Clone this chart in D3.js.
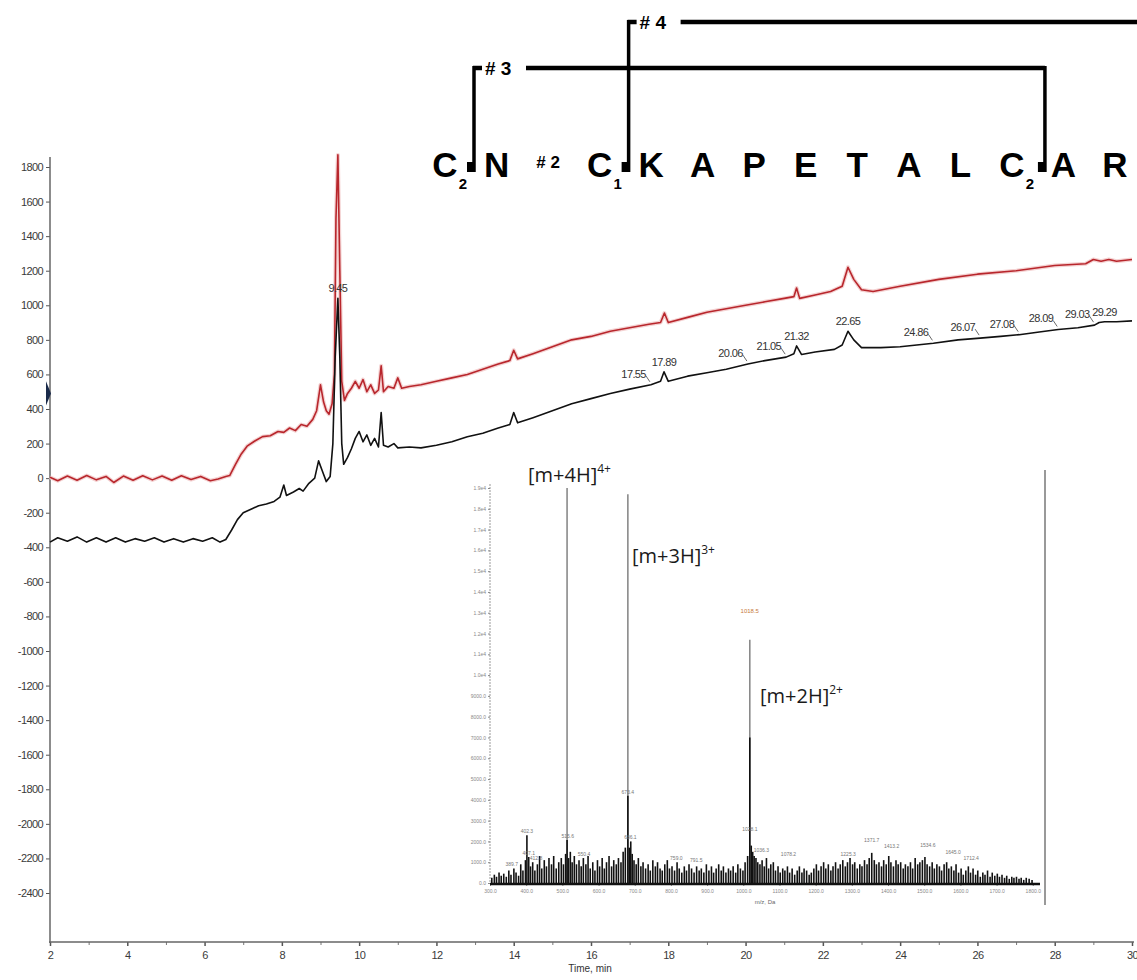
<!DOCTYPE html>
<html><head><meta charset="utf-8">
<script src="https://cdn.jsdelivr.net/npm/d3@7"></script>
<style>body{margin:0;background:#fff}svg{display:block}</style>
</head><body>
<svg id="c" width="1137" height="980"></svg>
<script>
// ---------- DATA ----------
const timeTicks = [2,4,6,8,10,12,14,16,18,20,22,24,26,28,30];
const timeMinor = [3,5,7,9,11,13,15,17,19,21,23,25,27,29];
const yTicks = [1800,1600,1400,1200,1000,800,600,400,200,0,-200,-400,-600,-800,-1000,-1200,-1400,-1600,-1800,-2000,-2200,-2400];

// red trace (time min, intensity)
const redTrace = [
[2.0,5],[2.2,-15],[2.45,12],[2.7,-12],[2.95,15],[3.2,-10],[3.45,10],[3.65,-25],[3.9,12],[4.15,-12],[4.4,14],[4.65,-10],[4.9,12],[5.15,-12],[5.4,14],[5.65,-8],[5.9,10],[6.15,-15],[6.35,-5],[6.55,10],[6.65,15],
[6.8,80],[6.95,140],[7.1,185],[7.3,215],[7.5,240],[7.7,245],[7.9,270],[8.05,265],[8.2,290],[8.35,275],[8.5,310],[8.65,300],[8.8,340],[8.9,390],[9.0,540],[9.08,440],[9.15,390],[9.22,370],[9.3,430],[9.36,600],[9.4,1500],[9.45,1870],[9.5,1200],[9.55,560],[9.62,450],[9.7,490],[9.8,520],[9.9,560],[10.0,520],[10.1,570],[10.2,500],[10.3,540],[10.4,490],[10.5,510],[10.57,650],[10.63,500],[10.75,530],[10.9,520],[11.0,580],[11.1,520],[11.3,530],[11.6,540],[12.0,560],[12.4,580],[12.8,600],[13.2,630],[13.6,660],[13.9,680],[14.0,740],[14.1,690],[14.5,720],[15.0,760],[15.5,800],[16.0,820],[16.5,850],[17.0,870],[17.5,890],[17.8,900],[17.9,955],[18.0,900],[18.5,930],[19.0,960],[19.5,980],[20.0,1000],[20.5,1020],[21.0,1040],[21.25,1050],[21.32,1100],[21.4,1040],[21.8,1060],[22.2,1080],[22.5,1110],[22.65,1220],[22.8,1150],[23.0,1090],[23.3,1080],[24.0,1110],[25.0,1150],[26.0,1180],[27.0,1200],[28.0,1230],[28.8,1240],[29.0,1265],[29.2,1255],[29.4,1265],[29.6,1255],[30.0,1265]
];

// black trace (time min, intensity)
const blackTrace = [
[2.0,-370],[2.2,-345],[2.45,-365],[2.7,-340],[2.95,-370],[3.2,-345],[3.45,-370],[3.7,-345],[3.95,-370],[4.2,-350],[4.45,-365],[4.7,-345],[4.95,-370],[5.2,-350],[5.45,-370],[5.7,-350],[5.95,-365],[6.2,-345],[6.4,-370],[6.55,-355],
[6.7,-300],[6.85,-240],[7.0,-200],[7.2,-180],[7.4,-160],[7.6,-150],[7.8,-135],[7.95,-110],[8.05,-40],[8.12,-100],[8.3,-80],[8.45,-60],[8.55,-75],[8.7,-30],[8.85,0],[8.95,100],[9.05,40],[9.15,-20],[9.25,10],[9.32,200],[9.38,700],[9.45,1040],[9.5,700],[9.55,200],[9.6,80],[9.7,120],[9.8,170],[9.9,230],[10.0,270],[10.1,210],[10.2,250],[10.3,190],[10.4,230],[10.5,180],[10.57,380],[10.63,190],[10.75,180],[10.9,200],[11.0,175],[11.3,180],[11.6,175],[12.0,190],[12.4,210],[12.8,240],[13.2,260],[13.6,290],[13.9,310],[14.0,380],[14.1,320],[14.5,350],[15.0,390],[15.5,430],[16.0,460],[16.5,490],[17.0,515],[17.55,540],[17.8,560],[17.89,615],[18.0,560],[18.5,590],[19.0,610],[19.5,630],[20.06,660],[20.5,680],[21.05,700],[21.25,720],[21.32,765],[21.45,715],[21.8,730],[22.3,745],[22.5,770],[22.65,850],[22.8,800],[23.0,755],[23.5,755],[24.0,760],[24.86,780],[25.5,800],[26.07,810],[26.6,820],[27.08,830],[27.6,845],[28.09,860],[28.6,870],[29.03,885],[29.15,900],[29.29,905],[29.6,905],[30.0,910]
];

// peak labels on black trace
const centeredPeaks = [9.45, 17.89, 21.32, 22.65, 29.29];
const leaderPeaks = [17.55, 20.06, 21.05, 24.86, 26.07, 27.08, 28.09, 29.03];

// peptide sequence
const residues = ['C','N','#','C','K','A','P','E','T','A','L','C','A','R'];
const residueSubs = ['2','','','1','','','','','','','','2','',''];
const bridges = [
  {label:'# 3', from:0, to:11, level:'low'},
  {label:'# 4', from:3, to:null, level:'high'}
];

// inset mass spectrum
const mzTicks = [300,400,500,600,700,800,900,1000,1100,1200,1300,1400,1500,1600,1700,1800];
const intTicks = [0,1000,2000,3000,4000,5000,6000,7000,8000,9000,10000,11000,12000,13000,14000,15000,16000,17000,18000,19000];
const ionPeaks = [[513,19000],[681,18700],[1018,11700]];
const ionLabels = [{text:'[m+4H]', sup:'4+', mz:513},{text:'[m+3H]', sup:'3+', mz:681},{text:'[m+2H]', sup:'2+', mz:1018}];
const noise = [
[305,250],[312,400],[318,300],[325,500],[331,350],[338,450],[345,300],[352,600],[358,400],[366,700],[372,500],[379,350],[385,900],[391,600],[398,1100],[402,2300],[407,1250],[412,800],[418,1000],[424,600],[431,900],[437,1300],[443,700],[450,1100],[456,800],[463,1200],[470,900],[476,1300],[483,700],[490,1000],[497,1200],[503,900],[509,1400],[513,2070],[517,1200],[522,1500],[527,1000],[533,1300],[539,900],[546,1100],[552,800],[558,1200],[565,900],[571,1300],[577,700],[584,1000],[590,600],[597,1100],[603,800],[610,1200],[616,700],[622,1000],[629,1300],[636,800],[642,1100],[649,900],[655,1200],[662,1000],[668,1500],[674,1700],[681,4200],[685,1700],[689,2000],[693,1400],[698,1100],[704,900],[710,1200],[717,800],[723,1000],[730,700],[737,900],[743,600],[750,1100],[757,800],[763,1000],[770,700],[776,600],[783,900],[790,1100],[796,700],[803,800],[810,600],[817,1000],[823,700],[830,500],[837,800],[843,600],[850,900],[857,700],[864,500],[871,800],[878,600],[884,700],[891,500],[898,900],[905,600],[912,800],[918,500],[925,700],[932,900],[939,600],[945,800],[952,500],[959,700],[965,600],[972,800],[979,500],[985,900],[992,700],[999,600],[1005,1000],[1012,1300],[1018,7000],[1022,1800],[1026,1500],[1030,1300],[1035,1200],[1040,1000],[1046,900],[1052,1100],[1058,800],[1064,1200],[1070,700],[1076,900],[1083,1000],[1089,600],[1096,800],[1102,500],[1109,700],[1115,600],[1122,800],[1128,500],[1135,700],[1142,400],[1149,600],[1155,800],[1162,500],[1168,700],[1175,600],[1182,400],[1188,500],[1195,700],[1202,900],[1208,600],[1215,800],[1222,1000],[1228,700],[1235,900],[1242,600],[1248,800],[1255,1000],[1262,700],[1268,900],[1275,1100],[1282,800],[1288,1000],[1295,1200],[1302,900],[1308,1000],[1315,700],[1322,900],[1328,800],[1335,1100],[1342,900],[1348,1200],[1355,1450],[1362,1100],[1368,900],[1375,1000],[1382,800],[1388,1100],[1395,900],[1402,1300],[1408,1000],[1415,800],[1422,1100],[1428,900],[1435,1000],[1442,700],[1448,900],[1455,800],[1462,1000],[1468,700],[1475,1200],[1482,900],[1488,1000],[1495,1100],[1502,1250],[1508,900],[1515,800],[1522,1000],[1528,700],[1535,900],[1542,800],[1548,600],[1555,900],[1562,1000],[1568,700],[1575,800],[1582,600],[1588,900],[1595,500],[1602,700],[1608,400],[1615,600],[1622,800],[1628,500],[1635,700],[1642,400],[1648,600],[1655,300],[1662,500],[1668,400],[1675,600],[1682,300],[1688,500],[1695,350],[1702,450],[1708,300],[1715,400],[1722,250],[1728,350],[1735,200],[1742,300],[1748,250],[1755,300],[1762,200],[1768,250],[1775,150],[1782,250],[1790,200],[1798,150]
];
const smallPeakLabels = [
[402,2300,'402.3'],[407,1250,'407.1'],[427,1000,'412.8'],[360,700,'389.7'],[515,2070,'515.6'],[560,1200,'550.4'],[681,4200,'673.4'],[688,2000,'686.1'],[815,1000,'759.0'],[870,900,'791.5'],
[1018,2400,'1028.1'],[1050,1400,'1036.3'],[1125,1200,'1078.2'],[1290,1200,'1225.3'],[1355,1900,'1371.7'],[1410,1600,'1413.2'],[1510,1650,'1534.6'],[1580,1300,'1645.0'],[1630,1000,'1712.4']
];

// ---------- DRAW ----------
const svg = d3.select('#c');
svg.append('rect').attr('width',1137).attr('height',980).attr('fill','#fff');
const FONT = 'Liberation Sans, Arial, sans-serif';

const x = d3.scaleLinear().domain([2,30]).range([50,1132]);
const y = d3.scaleLinear().domain([-2400,1800]).range([893,167]);

// axes
const ya = svg.append('g').attr('transform','translate(50,0)')
  .call(d3.axisLeft(y).tickValues(yTicks).tickSize(4).tickPadding(3).tickFormat(d=>String(d)));
ya.select('.domain').remove();
ya.selectAll('line').attr('stroke','#555');
ya.selectAll('text').attr('font-family',FONT).attr('font-size',11).attr('fill','#3a3a3a').attr('letter-spacing','-0.6');

const xa = svg.append('g').attr('transform','translate(0,942)')
  .call(d3.axisBottom(x).tickValues(timeTicks).tickSize(4).tickPadding(5).tickFormat(d=>String(d)));
xa.select('.domain').remove();
xa.selectAll('line').attr('stroke','#555').attr('stroke-width',1.5);
xa.selectAll('text').attr('font-family',FONT).attr('font-size',11).attr('fill','#3a3a3a').attr('letter-spacing','-0.6');
const xm = svg.append('g').attr('transform','translate(0,942)')
  .call(d3.axisBottom(x).tickValues(timeMinor).tickSize(3).tickFormat(''));
xm.select('.domain').remove();
xm.selectAll('line').attr('stroke','#777');

svg.append('line').attr('x1',50).attr('x2',50).attr('y1',157).attr('y2',943).attr('stroke','#666').attr('stroke-width',1.5);
svg.append('line').attr('x1',49).attr('x2',1134).attr('y1',942).attr('y2',942).attr('stroke','#666').attr('stroke-width',1.5);
svg.append('text').attr('x',590).attr('y',972).attr('text-anchor','middle').attr('font-family',FONT).attr('font-size',10).attr('fill','#333').text('Time, min');

// marker on y axis
svg.append('path').attr('d',`M46,${y(560)} L51,${y(490)} L46,${y(420)} Z`).attr('fill','#1a2a4a');

// traces
const line = d3.line().x(d=>x(d[0])).y(d=>y(d[1]));
svg.append('path').datum(redTrace).attr('d',line).attr('fill','none').attr('stroke','#f4d2d2').attr('stroke-width',4).attr('stroke-linejoin','round');
svg.append('path').datum(redTrace).attr('d',line).attr('fill','none').attr('stroke','#b8262c').attr('stroke-width',1.6).attr('stroke-linejoin','round');
svg.append('path').datum(blackTrace).attr('d',line).attr('fill','none').attr('stroke','#111').attr('stroke-width',1.6).attr('stroke-linejoin','round');

// peak labels
const valAt = t => { const d = blackTrace.reduce((a,b)=>Math.abs(b[0]-t)<Math.abs(a[0]-t)?b:a); return d[1]; };
centeredPeaks.forEach(t=>{
  svg.append('text').attr('x',x(t)).attr('y',y(valAt(t))-6).attr('text-anchor','middle')
    .attr('font-family',FONT).attr('font-size',11).attr('fill','#333').attr('letter-spacing','-0.6').text(t.toFixed(2));
});
leaderPeaks.forEach(t=>{
  const px = x(t), py = y(valAt(t));
  svg.append('text').attr('x',px-5).attr('y',py-7).attr('text-anchor','end')
    .attr('font-family',FONT).attr('font-size',11).attr('fill','#333').attr('letter-spacing','-0.6').text(t.toFixed(2));
  svg.append('path').attr('d',`M${px-5},${py-9} L${px-1},${py-3}`).attr('stroke','#444').attr('stroke-width',0.8).attr('fill','none');
});

// ---------- INSET SPECTRUM ----------
const xs = d3.scaleLinear().domain([300,1820]).range([490,1040]);
const ys = d3.scaleLinear().domain([0,19000]).range([883,488]);
const inset = svg.append('g');
inset.append('line').attr('x1',490).attr('x2',490).attr('y1',484).attr('y2',884).attr('stroke','#999').attr('stroke-width',1).attr('stroke-dasharray','2,1');
inset.append('line').attr('x1',1045).attr('x2',1045).attr('y1',470).attr('y2',905).attr('stroke','#999').attr('stroke-width',2);
const ia = inset.append('g').attr('transform','translate(490,0)')
  .call(d3.axisLeft(ys).tickValues(intTicks).tickSize(2).tickPadding(2)
    .tickFormat(d=> d===0 ? '0.0' : (d<10000 ? d.toFixed(1) : (d/10000).toFixed(1)+'e4')));
ia.select('.domain').remove();
ia.selectAll('line').attr('stroke','#888');
ia.selectAll('text').attr('font-family',FONT).attr('font-size',5).attr('fill','#888');
const ixa = inset.append('g').attr('transform','translate(0,884)')
  .call(d3.axisBottom(xs).tickValues(mzTicks).tickSize(2).tickPadding(3).tickFormat(d=>d.toFixed(1)));
ixa.select('.domain').remove();
ixa.selectAll('line').attr('stroke','#888');
ixa.selectAll('text').attr('font-family',FONT).attr('font-size',5).attr('fill','#888');
inset.append('text').attr('x',765).attr('y',904).attr('text-anchor','middle').attr('font-family',FONT).attr('font-size',6).attr('fill','#666').text('m/z, Da');

inset.selectAll('line.ion').data(ionPeaks).enter().append('line').attr('class','ion')
  .attr('x1',d=>xs(d[0])).attr('x2',d=>xs(d[0])).attr('y1',ys(0)).attr('y2',d=>ys(d[1]))
  .attr('stroke','#8a8a8a').attr('stroke-width',1.6);
inset.selectAll('line.nz').data(noise).enter().append('line').attr('class','nz')
  .attr('x1',d=>xs(d[0])).attr('x2',d=>xs(d[0])).attr('y1',ys(0)).attr('y2',d=>ys(d[1]))
  .attr('stroke','#111').attr('stroke-width',1.6);
inset.append('line').attr('x1',490).attr('x2',1040).attr('y1',884).attr('y2',884).attr('stroke','#111').attr('stroke-width',2.5);
smallPeakLabels.forEach(d=>{
  inset.append('text').attr('x',xs(d[0])).attr('y',ys(d[1])-2).attr('text-anchor','middle')
    .attr('font-family',FONT).attr('font-size',5).attr('fill','#777').text(d[2]);
});
inset.append('text').attr('x',xs(1018)).attr('y',ys(13000)).attr('text-anchor','middle')
  .attr('font-family',FONT).attr('font-size',6).attr('fill','#c8783a').text('1018.5');

// ion labels
const ionPos = {513:[528,482],681:[632,563],1018:[760,703]};
ionLabels.forEach(l=>{
  const p = ionPos[l.mz];
  const t = inset.append('text').attr('x',p[0]).attr('y',p[1]).attr('font-family','Open Sans, Noto Sans, sans-serif').attr('font-size',20).attr('fill','#1a1a1a');
  t.append('tspan').text(l.text);
  t.append('tspan').attr('dy',-9).attr('font-size',12).text(l.sup);
});

// ---------- PEPTIDE ----------
const sx = d3.scalePoint().domain(d3.range(residues.length)).range([445,1115]);
const pep = svg.append('g');
const PF = 'Liberation Sans Narrow, Arial Narrow, Liberation Sans, Arial, sans-serif';
residues.forEach((r,i)=>{
  if(r==='#'){
    pep.append('text').attr('x',sx(i)).attr('y',168).attr('text-anchor','middle').attr('font-family',PF).attr('font-weight','bold').attr('font-size',17).attr('fill','#000').text('# 2');
    return;
  }
  pep.append('text').attr('x',sx(i)).attr('y',177).attr('text-anchor','middle').attr('font-family',PF).attr('font-weight','bold').attr('font-size',35).attr('fill','#000').text(r);
  if(residueSubs[i]) pep.append('text').attr('x',sx(i)+18).attr('y',189).attr('text-anchor','middle').attr('font-family',PF).attr('font-weight','bold').attr('font-size',15).attr('fill','#000').text(residueSubs[i]);
});
bridges.forEach(b=>{
  const yl = b.level==='low' ? 68 : 22;
  const x1 = sx(b.from)+29;
  const bottom = 172;
  pep.append('line').attr('x1',x1).attr('x2',x1).attr('y1',yl-2).attr('y2',bottom).attr('stroke','#000').attr('stroke-width',3.5);
  pep.append('rect').attr('x',x1-7).attr('y',bottom-10).attr('width',8).attr('height',10).attr('fill','#000');
  pep.append('line').attr('x1',x1-1).attr('x2',x1+8).attr('y1',yl).attr('y2',yl).attr('stroke','#000').attr('stroke-width',4.5);
  pep.append('text').attr('x',x1+11).attr('y',yl+7).attr('font-family',PF).attr('font-weight','bold').attr('font-size',19).attr('fill','#000').text(b.label);
  const xe = b.to===null ? 1140 : sx(b.to)+33;
  pep.append('line').attr('x1',x1+52).attr('x2',xe).attr('y1',yl).attr('y2',yl).attr('stroke','#000').attr('stroke-width',4.5);
  if(b.to!==null){
    pep.append('line').attr('x1',xe).attr('x2',xe).attr('y1',yl-2).attr('y2',bottom).attr('stroke','#000').attr('stroke-width',3.5);
    pep.append('rect').attr('x',xe-7).attr('y',bottom-10).attr('width',8).attr('height',10).attr('fill','#000');
  }
});
</script>
</body></html>
